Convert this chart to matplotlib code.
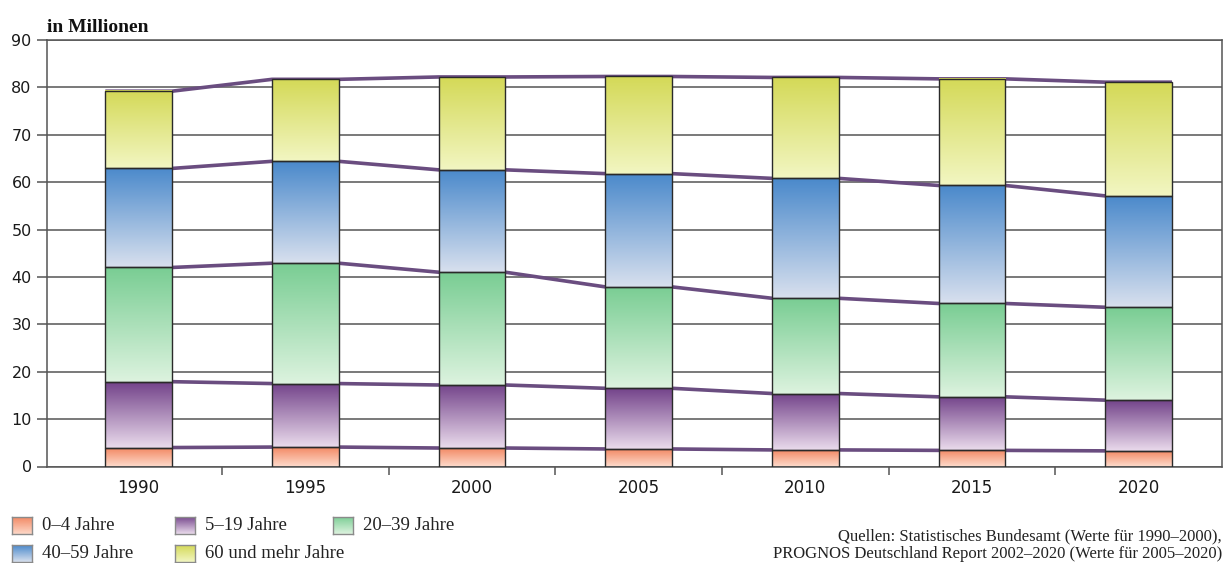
import numpy as np
import matplotlib
matplotlib.use("Agg")
import matplotlib.pyplot as plt
from matplotlib.colors import LinearSegmentedColormap

# Bevölkerung Deutschlands nach Altersgruppen, in Millionen
years = ["1990", "1995", "2000", "2005", "2010", "2015", "2020"]
age_0_4 = [4.0, 4.1, 3.9, 3.7, 3.5, 3.4, 3.3]
age_5_19 = [13.9, 13.4, 13.3, 12.8, 11.9, 11.3, 10.7]
age_20_39 = [24.1, 25.4, 23.8, 21.4, 20.1, 19.7, 19.6]
age_40_59 = [20.9, 21.5, 21.6, 23.9, 25.3, 24.9, 23.5]
age_60_plus = [16.3, 17.3, 19.6, 20.5, 21.3, 22.5, 24.0]
labels = ["0–4 Jahre", "5–19 Jahre", "20–39 Jahre", "40–59 Jahre", "60 und mehr Jahre"]
y_ticks = [0, 10, 20, 30, 40, 50, 60, 70, 80, 90]

series = [age_0_4, age_5_19, age_20_39, age_40_59, age_60_plus]
# gradient colours: (bottom, top)
grads = [
    ("#fdd8c8", "#f2855f"),
    ("#eadbec", "#73438a"),
    ("#ddf3df", "#79cd93"),
    ("#d8e0ee", "#4a89cb"),
    ("#f2f6c2", "#d4d957"),
]

W, H = 1228, 563
fig = plt.figure(figsize=(W / 100, H / 100), dpi=100)
ax = fig.add_axes([47 / W, 1 - 466.5 / H, 1175 / W, 426.5 / H])

n = len(years)
x = np.arange(n)
width = 0.40
grid_col = "#555555"
line_col = "#6a4d80"

for yv in y_ticks:
    ax.axhline(yv, color=grid_col, lw=1.1, zorder=1)

grad = np.linspace(0, 1, 256).reshape(-1, 1)
cmaps = [LinearSegmentedColormap.from_list("g%d" % k, list(c)) for k, c in enumerate(grads)]
bottom = np.zeros(n)
for vals, cmap in zip(series, cmaps):
    vals = np.array(vals)
    top = bottom + vals
    for i in range(n):
        ax.imshow(grad, cmap=cmap, origin="lower", aspect="auto",
                  extent=[x[i] - width / 2, x[i] + width / 2, bottom[i], top[i]],
                  zorder=3, interpolation="bilinear")
    ax.bar(x, vals, width, bottom=bottom, fill=False, edgecolor="#2a2a2a",
           lw=1.0, zorder=4)
    # connecting line along the segment tops
    lx = np.ravel(np.column_stack([x - width / 2, x + width / 2]))
    ly = np.repeat(top, 2)
    ax.plot(lx, ly, color=line_col, lw=2.6, zorder=2, solid_capstyle="butt")
    bottom = top

ax.set_xlim(-0.55, n - 0.5)
ax.set_ylim(0, 90)
ax.set_yticks(y_ticks)
ax.set_xticks(x)
ax.set_xticklabels(years)
ax.set_xticks(np.arange(0.5, n - 1, 1.0), minor=True)
ax.tick_params(axis="x", which="major", length=0, pad=9, labelsize=12)
ax.tick_params(axis="x", which="minor", length=6, color=grid_col, width=1.1)
ax.tick_params(axis="y", length=7, color=grid_col, width=1.1, labelsize=11.5, pad=4)
for lab in ax.get_xticklabels() + ax.get_yticklabels():
    lab.set_fontfamily("DejaVu Sans")
    lab.set_color("#1a1a1a")
for s in ax.spines.values():
    s.set_color(grid_col)
    s.set_linewidth(1.1)

fig.text(47 / W, 1 - 32 / H, "in Millionen", fontsize=14, fontweight="bold",
         family="Liberation Serif", color="#111111", va="baseline")

# legend: gradient boxes with labels, laid out in two rows
box_x = [12, 175, 333, 12, 175]
box_top = [517, 517, 517, 545, 545]
bw, bh = 20, 17
for k, lab in enumerate(labels):
    lax = fig.add_axes([box_x[k] / W, 1 - (box_top[k] + bh) / H, bw / W, bh / H])
    lax.imshow(grad, cmap=cmaps[k], origin="lower", aspect="auto",
               extent=[0, 1, 0, 1], interpolation="bilinear")
    lax.set_xticks([])
    lax.set_yticks([])
    for s in lax.spines.values():
        s.set_color("#8a8a8a")
        s.set_linewidth(1.0)
    fig.text((box_x[k] + 30) / W, 1 - (box_top[k] + bh / 2) / H, lab,
             fontsize=13.5, family="Liberation Serif", color="#222222",
             va="center", ha="left")

fig.text(1222 / W, 1 - 536 / H,
         "Quellen: Statistisches Bundesamt (Werte für 1990–2000),",
         ha="right", va="center", fontsize=12, family="Liberation Serif",
         color="#222222")
fig.text(1222 / W, 1 - 554.5 / H,
         "PROGNOS Deutschland Report 2002–2020 (Werte für 2005–2020)",
         ha="right", va="center", fontsize=12, family="Liberation Serif",
         color="#222222")

fig.savefig("out.png", dpi=100)
